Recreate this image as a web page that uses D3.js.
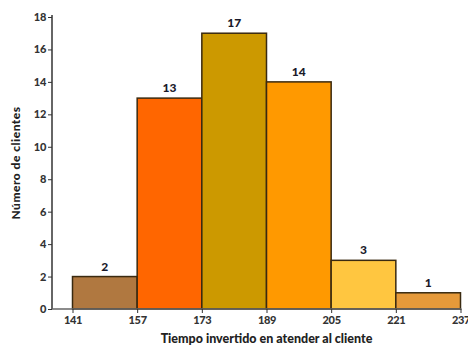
<!DOCTYPE html>
<html><head><meta charset="utf-8">
<script src="https://cdn.jsdelivr.net/npm/d3@7"></script>
<style>body{margin:0;background:#fff}svg{display:block}text{font-family:Lato,"Open Sans",sans-serif;font-weight:900}</style>
</head><body><svg id="c" width="468" height="347"></svg>
<script>
const binEdges = [141,157,173,189,205,221,237];
const counts = [2,13,17,14,3,1];
const colors = ["#B07840","#FF6600","#CC9900","#FF9900","#FFC640","#E69A3A"];
const yTicks = [0,2,4,6,8,10,12,14,16,18];
const xTitle = "Tiempo invertido en atender al cliente";
const yTitle = "Número de clientes";

const svg = d3.select("#c");
const x = d3.scaleLinear().domain([141,237]).range([72.5,460.5]);
const y = d3.scaleLinear().domain([0,18]).range([309,17]);
const axisX0 = 52;

const bars = counts.map((c,i)=>({x0:binEdges[i],x1:binEdges[i+1],c,col:colors[i]}));
svg.selectAll("rect.bar").data(bars).enter().append("rect")
  .attr("x",d=>x(d.x0)).attr("width",d=>x(d.x1)-x(d.x0))
  .attr("y",d=>y(d.c)).attr("height",d=>y(0)-y(d.c))
  .attr("fill",d=>d.col).attr("stroke","#3a2a10").attr("stroke-width",1.5);

svg.selectAll("text.lab").data(bars).enter().append("text")
  .attr("x",d=>(x(d.x0)+x(d.x1))/2).attr("y",d=>y(d.c)-6)
  .attr("text-anchor","middle").attr("font-size",12).attr("fill","#1a1a2a").text(d=>d.c);

// y axis
const ya = svg.append("g").attr("transform",`translate(${axisX0},0)`)
  .call(d3.axisLeft(y).tickValues(yTicks).tickSize(4).tickPadding(2));
ya.select(".domain").attr("stroke","#333").attr("stroke-width",1.5).attr("d",`M0,${y(18)-2}V${y(0)}`);
ya.selectAll(".tick line").attr("stroke","#333");
ya.selectAll(".tick text").attr("font-size",11).attr("fill","#333").attr("font-family","Lato,sans-serif").attr("font-weight","900").attr("letter-spacing","-0.3");

// x axis
const xa = svg.append("g").attr("transform",`translate(0,${y(0)})`)
  .call(d3.axisBottom(x).tickValues(binEdges).tickSize(4).tickPadding(3).tickFormat(d3.format("d")));
xa.select(".domain").attr("stroke","#666").attr("stroke-width",1.5).attr("d",`M${axisX0},0H${x(237)+1}`);
xa.selectAll(".tick line").attr("stroke","#333");
xa.selectAll(".tick text").attr("font-size",11).attr("fill","#333").attr("font-family","Lato,sans-serif").attr("font-weight","900").attr("letter-spacing","-0.3");

svg.append("text").attr("x",266.5).attr("y",343).attr("text-anchor","middle")
  .attr("font-size",12.5).attr("fill","#222").text(xTitle);
svg.append("text").attr("transform",`translate(20,${y(9)}) rotate(-90)`).attr("text-anchor","middle")
  .attr("font-size",12).attr("fill","#222").attr("letter-spacing","0.5").text(yTitle);
</script></body></html>
